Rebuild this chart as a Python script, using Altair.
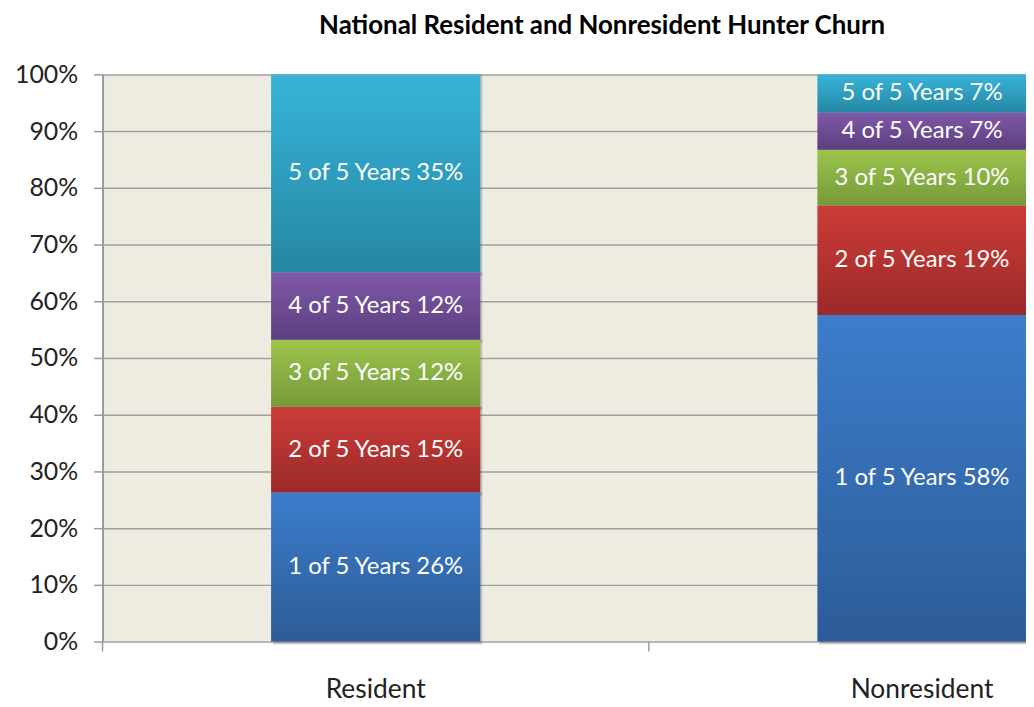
import altair as alt
import pandas as pd

groups = ["Resident", "Nonresident"]
series = ["1 of 5 Years", "2 of 5 Years", "3 of 5 Years", "4 of 5 Years", "5 of 5 Years"]
resident = [26.3, 15.1, 11.8, 11.9, 34.9]
nonresident = [57.6, 19.3, 9.8, 6.6, 6.7]
y_ticks = [0, 10, 20, 30, 40, 50, 60, 70, 80, 90, 100]

grad_top = ["#3D7DCB", "#CD3C39", "#9CC54B", "#7F59A9", "#37B4D9"]
grad_bot = ["#2C5C98", "#9A2A28", "#769A3B", "#5C3F7E", "#2587A3"]

rows = []
for g, vals in zip(groups, [resident, nonresident]):
    for i, (s, v) in enumerate(zip(series, vals)):
        rows.append({"group": g, "series": s, "order": i + 1, "value": v})
df = pd.DataFrame(rows)

FONT = "Lato"

base = alt.Chart(df).transform_stack(
    stack="value", groupby=["group"], as_=["y0", "y1"],
    sort=[alt.SortField("order", "ascending")]
).transform_calculate(
    label="datum.series + ' ' + format(datum.value, '.0f') + '%'",
    ymid="(datum.y0 + datum.y1) / 2"
)

xenc = alt.X("group:N", sort=groups, title=None,
             scale=alt.Scale(domain=groups, range=[0, 1098], paddingInner=0.617, paddingOuter=0.3085),
             axis=alt.Axis(domain=False, ticks=False, labelAngle=0, labelFont=FONT, labelFontSize=26.5,
                           labelColor="#222222", labelPadding=48, labelBaseline="middle"))
yenc = alt.Y("y0:Q", title=None,
             scale=alt.Scale(domain=[0, 100], nice=False, zero=True),
             axis=alt.Axis(values=y_ticks, labelExpr="datum.value + '%'", labelFont=FONT,
                           labelFontSize=25, labelColor="#222222", labelPadding=16,
                           tickSize=9, tickColor="#9A9A9A", tickWidth=1.5,
                           domainColor="#9A9A9A", domainWidth=2,
                           grid=True, gridColor="#A0A0A0", gridWidth=1.5))

shadow = base.mark_bar(color="#000000", opacity=0.18, xOffset=2, yOffset=3).encode(
    x=xenc, y=yenc, y2="y1:Q")

layers = [shadow]
for i in range(len(series)):
    grad = alt.Gradient(gradient="linear", x1=0, y1=0, x2=0, y2=1,
                        stops=[alt.GradientStop(color=grad_top[i], offset=0),
                               alt.GradientStop(color=grad_bot[i], offset=1)])
    layers.append(
        base.transform_filter(alt.datum.order == i + 1)
        .mark_bar(color=grad)
        .encode(x=xenc, y=yenc, y2="y1:Q")
    )

labels = base.mark_text(color="white", font=FONT, fontSize=24, baseline="middle").encode(
    x=xenc, y=alt.Y("ymid:Q"), text="label:N")

bars = alt.layer(*layers, labels)

sep = alt.Chart(pd.DataFrame({"group": groups})).mark_rule(color="#9A9A9A", strokeWidth=1.5).encode(
    x=alt.X("group:N", sort=groups, bandPosition=0, axis=None,
            scale=alt.Scale(domain=groups, range=[0, 1098], paddingInner=0, paddingOuter=0)),
    y=alt.value(570), y2=alt.value(580))

chart = alt.layer(bars, sep).resolve_scale(x="independent").properties(
    width=928, height=570,
    background="white",
    title=alt.TitleParams("National Resident and Nonresident Hunter Churn", font=FONT,
                          fontSize=26, fontWeight="bold", color="#000000",
                          anchor="middle", dx=38, offset=24),
    autosize=alt.AutoSizeParams(type="none"),
    padding={"left": 95, "top": 65, "right": 0, "bottom": 62},
).configure_view(fill="#EEEBE1", stroke=None)

chart.save("out.html", embed_options={"renderer": "svg", "actions": False})
